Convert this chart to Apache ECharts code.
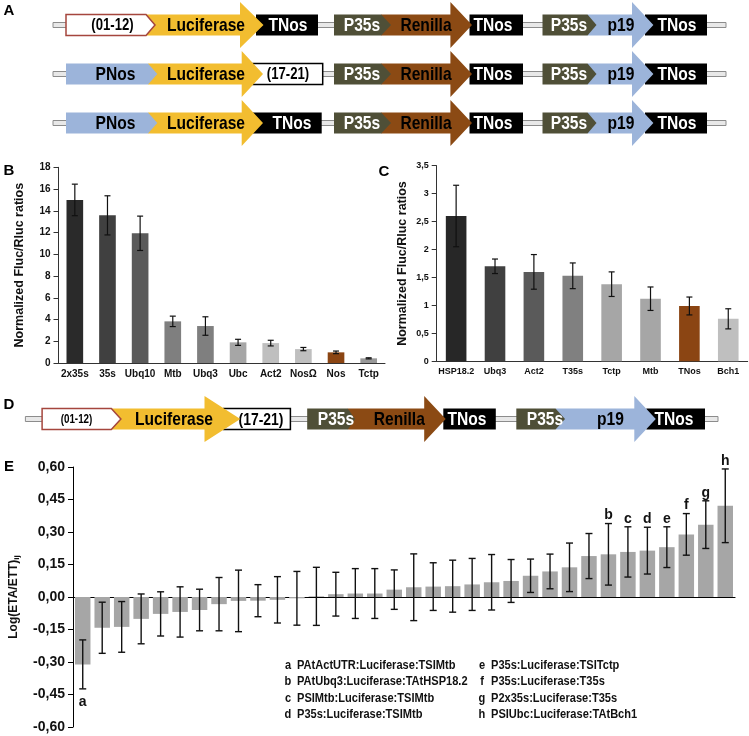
<!DOCTYPE html>
<html><head><meta charset="utf-8">
<script src="https://cdn.jsdelivr.net/npm/echarts@6/dist/echarts.min.js"></script>
<style>html,body{margin:0;padding:0;background:#fff}#c{width:749px;height:736px}</style>
</head><body><div id="c"></div>
<script>
// ---------- DATA ----------
const bCategories = ['2x35s','35s','Ubq10','Mtb','Ubq3','Ubc','Act2','NosΩ','Nos','Tctp'];
const bValues = [15.0, 13.58, 11.93, 3.83, 3.40, 1.90, 1.83, 1.28, 0.98, 0.43];
const bErrors = [1.45, 1.80, 1.58, 0.48, 0.85, 0.28, 0.26, 0.15, 0.12, 0.05];

const cCategories = ['HSP18.2','Ubq3','Act2','T35s','Tctp','Mtb','TNos','Bch1'];
const cValues = [2.60, 1.70, 1.60, 1.53, 1.38, 1.12, 0.99, 0.76];
const cErrors = [0.55, 0.13, 0.31, 0.23, 0.22, 0.21, 0.16, 0.18];

const eValues = [-0.311,-0.142,-0.138,-0.101,-0.078,-0.069,-0.060,-0.033,-0.018,-0.017,
  -0.013,-0.006,0.003,0.013,0.016,0.016,0.034,0.045,0.048,0.050,
  0.058,0.068,0.074,0.098,0.118,0.137,0.189,0.197,0.208,0.214,
  0.230,0.289,0.334,0.421];
const eErrors = [0.113,0.118,0.117,0.115,0.102,0.116,0.096,0.123,0.142,0.074,
  0.107,0.124,0.134,0.101,0.115,0.115,0.091,0.154,0.110,0.120,
  0.120,0.128,0.099,0.077,0.080,0.112,0.104,0.142,0.116,0.108,
  0.094,0.096,0.110,0.170];
const eLetters = ['a','','','','','','','','','','','','','','','','','','','','','','','','','','','b','c','d','e','f','g','h'];
const eLegendLetters = ['a','b','c','d','e','f','g','h'];
const eLegendTexts = ['PAtActUTR:Luciferase:TSIMtb','PAtUbq3:Luciferase:TAtHSP18.2','PSIMtb:Luciferase:TSIMtb','P35s:Luciferase:TSIMtb',
  'P35s:Luciferase:TSITctp','P35s:Luciferase:T35s','P2x35s:Luciferase:T35s','PSIUbc:Luciferase:TAtBch1'];
const panelLetters = ['A','B','C','D','E'];

// ---------- STYLE ----------
const bColors = ['#2a2a2a','#404040','#5a5a5a','#7f7f7f','#7f7f7f','#a6a6a6','#bfbfbf','#bfbfbf','#8b4513','#999999'];
const cColors = ['#272727','#404040','#5a5a5a','#808080','#a6a6a6','#a6a6a6','#8b4513','#bfbfbf'];
const E_COLOR = '#a6a6a6';
const YEL='#f2bd30', BRN='#8b4a14', OLV='#4f4f37', BLU='#9cb4da', BLK='#000', RED='#a5463d';
const SANS = '"Liberation Sans",Arial,sans-serif';
const NARROW_SCALE = 0.82;

// ---------- DIAGRAMS ----------
const BH = 10.5, HH = 23;
function arrowPts(x0,hx,tip,y){return [[x0,y-BH],[hx,y-BH],[hx,y-HH],[tip,y],[hx,y+HH],[hx,y+BH],[x0,y+BH]];}
function pentPts(x0,cb,tip,y){return [[x0,y-BH],[cb,y-BH],[tip,y],[cb,y+BH],[x0,y+BH]];}
function narrowText(t,x,y,size,color,align,z){
  return {type:'text',x:x,y:y,scaleX:NARROW_SCALE,z:z,
    style:{text:t,x:0,y:0,fill:color,font:'bold '+size+'px '+SANS,
      textAlign:align,align:align,textVerticalAlign:'middle',verticalAlign:'middle'}};
}
function rowParts(y, lx0, lx1, parts){
  const g=[];
  g.push({type:'rect',shape:{x:lx0,y:y-2.5,width:lx1-lx0,height:5},style:{fill:'#e8e8e8',stroke:'#8c8c8c',lineWidth:1},z:1});
  let z=2;
  parts.forEach(p=>{
    if(p.k==='box'){
      g.push({type:'rect',shape:{x:p.x0,y:y-BH,width:p.x1-p.x0,height:2*BH},style:{fill:p.fill,stroke:p.stroke||null,lineWidth:p.stroke?1.5:0},z:z++});
    } else if(p.k==='arrow'){
      g.push({type:'polygon',shape:{points:arrowPts(p.x0,p.hx,p.tip,y)},style:{fill:p.fill},z:z++});
    } else {
      g.push({type:'polygon',shape:{points:pentPts(p.x0,p.cb,p.tip,y)},style:{fill:p.fill,stroke:p.stroke||null,lineWidth:p.stroke?1.5:0},z:z++});
    }
    g.push(narrowText(p.text,p.tx,y+1,p.fs||19,p.color||'#000','center',z++));
  });
  return g;
}
function tail(){ // Renilla + p19 cassettes, panel A
  return [
    {k:'box',x0:469.5,x1:523,fill:BLK,text:'TNos',color:'#fff',tx:493},
    {k:'arrow',x0:381,hx:450.4,tip:472,fill:BRN,text:'Renilla',tx:426},
    {k:'pent',x0:334,cb:381.2,tip:391,fill:OLV,text:'P35s',color:'#fff',tx:362},
    {k:'box',x0:645,x1:707,fill:BLK,text:'TNos',color:'#fff',tx:677},
    {k:'arrow',x0:587.5,hx:632,tip:653.4,fill:BLU,text:'p19',tx:621},
    {k:'pent',x0:542.5,cb:587.5,tip:596.5,fill:OLV,text:'P35s',color:'#fff',tx:569}
  ];
}
const graphics = [];
graphics.push(...rowParts(25,53,726,[
  {k:'box',x0:256,x1:318,fill:BLK,text:'TNos',color:'#fff',tx:288},
  {k:'arrow',x0:146,hx:240,tip:263.5,fill:YEL,text:'Luciferase',tx:206},
  {k:'pent',x0:66,cb:146,tip:155,fill:'#fff',stroke:RED,text:'(01-12)',fs:16,tx:112.5}
].concat(tail())));
graphics.push(...rowParts(74,53,726,[
  {k:'box',x0:253,x1:322.7,fill:'#fff',stroke:'#000',text:'(17-21)',fs:16,tx:288},
  {k:'arrow',x0:148,hx:241.7,tip:263,fill:YEL,text:'Luciferase',tx:206},
  {k:'pent',x0:66,cb:148,tip:157.3,fill:BLU,text:'PNos',tx:115.5}
].concat(tail())));
graphics.push(...rowParts(123,53,726,[
  {k:'box',x0:253,x1:321.7,fill:BLK,text:'TNos',color:'#fff',tx:292},
  {k:'arrow',x0:148,hx:241.7,tip:263,fill:YEL,text:'Luciferase',tx:206},
  {k:'pent',x0:66,cb:148,tip:157.3,fill:BLU,text:'PNos',tx:115.5}
].concat(tail())));
graphics.push(...rowParts(419,25.4,718,[
  {k:'box',x0:223.6,x1:290.4,fill:'#fff',stroke:'#000',text:'(17-21)',fs:17,tx:261},
  {k:'arrow',x0:111.3,hx:204.5,tip:240.3,fill:YEL,text:'Luciferase',tx:174},
  {k:'pent',x0:42.1,cb:111.3,tip:120.9,fill:'#fff',stroke:RED,text:'(01-12)',fs:12,tx:76.5},
  {k:'box',x0:443.3,x1:495.8,fill:BLK,text:'TNos',color:'#fff',tx:467},
  {k:'arrow',x0:347.8,hx:424.2,tip:445.7,fill:BRN,text:'Renilla',tx:399.3},
  {k:'pent',x0:307.2,cb:347.8,tip:355,fill:OLV,text:'P35s',color:'#fff',tx:336},
  {k:'box',x0:646.3,x1:705,fill:BLK,text:'TNos',color:'#fff',tx:674},
  {k:'arrow',x0:555.5,hx:634.3,tip:655.8,fill:BLU,text:'p19',tx:610.4},
  {k:'pent',x0:516.3,cb:555.5,tip:565,fill:OLV,text:'P35s',color:'#fff',tx:545}
]));
// panel letters
const panelPos = [[9,11],[9,171],[384,172],[9,405],[9,467]];
panelLetters.forEach((t,i)=>graphics.push({type:'text',z:50,style:{text:t,x:panelPos[i][0],y:panelPos[i][1],
  font:'bold 15px '+SANS,fill:'#000',textAlign:'center',align:'center',textVerticalAlign:'middle',verticalAlign:'middle'}}));
// E legend
eLegendLetters.forEach((l,i)=>{
  const col = i<4?0:1, row=i%4;
  const lx = col===0?288:482, ty = 665+row*16.5;
  graphics.push(narrowText(l,lx,ty,13.5,'#111','center',50));
  graphics.push(narrowText(eLegendTexts[i],lx+9,ty,13.5,'#111','left',50));
});

// ---------- ERROR BARS ----------
function errSeries(xi, yi, vals, errs, cap, lw, letters){
  return {
    type:'custom', xAxisIndex:xi, yAxisIndex:yi, z:10, clip:false, silent:true,
    data: vals.map((v,i)=>[i,v,errs[i]]),
    encode:{x:0,y:1},
    renderItem:function(params, api){
      const i=api.value(0), v=api.value(1), e=api.value(2);
      const t=api.coord([i,v+e]), b=api.coord([i,v-e]);
      const st={stroke:'#111',lineWidth:lw};
      const ch=[
        {type:'line',shape:{x1:t[0],y1:t[1],x2:b[0],y2:b[1]},style:st},
        {type:'line',shape:{x1:t[0]-cap,y1:t[1],x2:t[0]+cap,y2:t[1]},style:st},
        {type:'line',shape:{x1:b[0]-cap,y1:b[1],x2:b[0]+cap,y2:b[1]},style:st}
      ];
      if(letters && letters[i]){
        const neg = v<0;
        ch.push({type:'text',style:{text:letters[i],x:t[0],y:neg?b[1]+13:t[1]-8,
          font:'bold 14px '+SANS,fill:'#111',textAlign:'center',align:'center',textVerticalAlign:'middle',verticalAlign:'middle'}});
      }
      return {type:'group',children:ch};
    }
  };
}

const axisLineStyle={lineStyle:{color:'#333',width:1}};
const option = {
  animation:false,
  backgroundColor:'#fff',
  graphic: graphics,
  grid:[
    {left:58.5, top:167.3, width:326.5, height:195.7},
    {left:436.7, top:165.7, width:311, height:195.6},
    {left:63.3, top:467, width:671.7, height:260}
  ],
  xAxis:[
    {gridIndex:0,type:'category',data:bCategories,axisLine:axisLineStyle,axisTick:{length:5,lineStyle:{color:'#333'}},
     axisLabel:{fontSize:10,fontWeight:'bold',color:'#111',fontFamily:SANS,margin:6,interval:0}},
    {gridIndex:1,type:'category',data:cCategories,axisLine:axisLineStyle,axisTick:{length:5,lineStyle:{color:'#333'}},
     axisLabel:{fontSize:9,fontWeight:'bold',color:'#111',fontFamily:SANS,margin:6,interval:0}},
    {gridIndex:2,type:'category',data:eValues.map((v,i)=>String(i+1)),axisLine:{onZero:true,lineStyle:{color:'#000',width:1.2}},
     axisTick:{show:false},axisLabel:{show:false}}
  ],
  yAxis:[
    {gridIndex:0,type:'value',min:0,max:18,interval:2,splitLine:{show:false},axisLine:{show:true,lineStyle:{color:'#333'}},
     axisTick:{show:true,length:5,lineStyle:{color:'#333'}},
     axisLabel:{fontSize:10,fontWeight:'bold',color:'#111',fontFamily:SANS,margin:8},
     name:'Normalized Fluc/Rluc ratios',nameLocation:'middle',nameGap:32,
     nameTextStyle:{fontSize:12.5,fontWeight:'bold',color:'#111',fontFamily:SANS}},
    {gridIndex:1,type:'value',min:0,max:3.5,interval:0.5,splitLine:{show:false},axisLine:{show:true,lineStyle:{color:'#333'}},
     axisTick:{show:true,length:5,lineStyle:{color:'#333'}},
     axisLabel:{fontSize:9,fontWeight:'bold',color:'#111',fontFamily:SANS,margin:8,formatter:v=>String(v).replace('.',',')},
     name:'Normalized Fluc/Rluc ratios',nameLocation:'middle',nameGap:28,
     nameTextStyle:{fontSize:12.5,fontWeight:'bold',color:'#111',fontFamily:SANS}},
    {gridIndex:2,type:'value',min:-0.6,max:0.6,interval:0.15,splitLine:{show:false},axisLine:{show:true,lineStyle:{color:'#000'}},
     axisTick:{show:true,length:5,lineStyle:{color:'#000'}},
     axisLabel:{fontSize:14,fontWeight:'bold',color:'#111',fontFamily:SANS,margin:8,formatter:v=>v.toFixed(2).replace('.',',')},
     name:'Log(ETA/ETT){s|ij}',nameLocation:'middle',nameGap:52,
     nameTextStyle:{fontSize:12,fontWeight:'bold',color:'#111',fontFamily:SANS,
       rich:{s:{fontSize:8,fontWeight:'bold',fontFamily:SANS,color:'#111',padding:[6,0,0,0]}}}}
  ],
  series:[
    {type:'bar',xAxisIndex:0,yAxisIndex:0,barWidth:'51%',data:bValues.map((v,i)=>({value:v,itemStyle:{color:bColors[i]}}))},
    errSeries(0,0,bValues,bErrors,3,1.2),
    {type:'bar',xAxisIndex:1,yAxisIndex:1,barWidth:'53%',data:cValues.map((v,i)=>({value:v,itemStyle:{color:cColors[i]}}))},
    errSeries(1,1,cValues,cErrors,3,1.2),
    {type:'bar',xAxisIndex:2,yAxisIndex:2,barWidth:'79.5%',itemStyle:{color:E_COLOR},data:eValues},
    errSeries(2,2,eValues,eErrors,3.5,1.4,eLetters)
  ]
};
const chart = echarts.init(document.getElementById('c'),null,{renderer:'canvas'});
chart.setOption(option);
</script></body></html>
